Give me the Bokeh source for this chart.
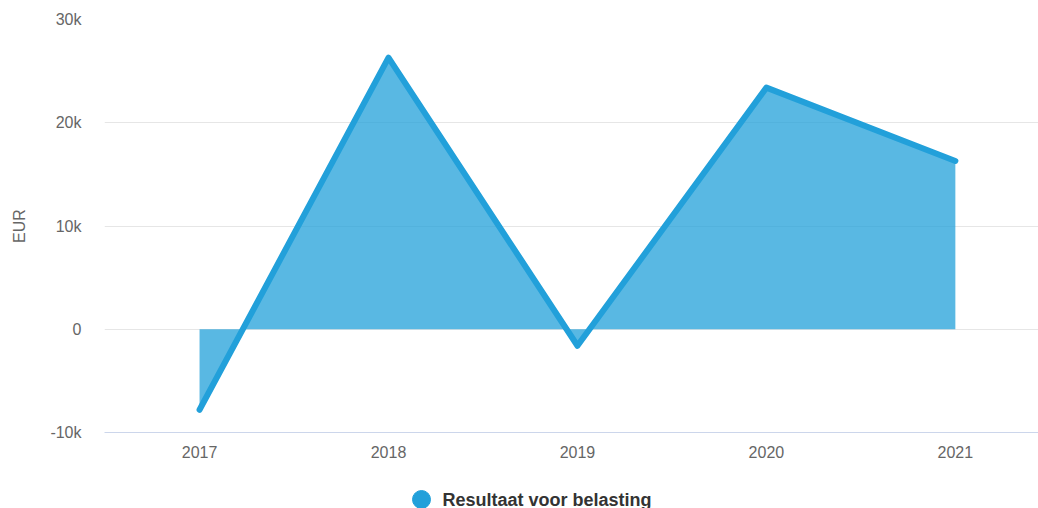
from bokeh.plotting import figure
from bokeh.models import Range1d, FixedTicker, ColumnDataSource
from bokeh.layouts import column
from bokeh.core.properties import value
from bokeh.embed import file_html
from bokeh.resources import INLINE

years = ["2017", "2018", "2019", "2020", "2021"]
values = [-7800, 26300, -1600, 23400, 16300]
series_name = "Resultaat voor belasting"
y_ticks = [-10000, 0, 10000, 20000, 30000]
y_tick_labels = ["-10k", "0", "10k", "20k", "30k"]

color = "#22a0da"
FONT = "Liberation Sans"

x = list(range(len(years)))

p = figure(width=1038, height=470, output_backend="svg", toolbar_location=None,
           x_range=Range1d(-0.503, 4.44), y_range=Range1d(-10000, 30000),
           min_border_left=104, min_border_right=0, min_border_top=19, min_border_bottom=38)
p.outline_line_color = None
p.background_fill_color = "white"
p.border_fill_color = "white"

p.varea(x=x, y1=[0] * len(x), y2=values, fill_color=color, fill_alpha=0.75)
p.line(x=x, y=values, line_color=color, line_width=6, line_join="round", line_cap="round")

# axes
p.xaxis.ticker = FixedTicker(ticks=x)
p.xaxis.major_label_overrides = {i: y for i, y in enumerate(years)}
p.xaxis.axis_line_color = "#ccd6eb"
p.xaxis.major_tick_line_color = None
p.xaxis.major_tick_out = 0
p.xaxis.major_tick_in = 0
p.xaxis.minor_tick_line_color = None
p.xaxis.major_label_text_font = FONT
p.xaxis.major_label_text_font_size = "16px"
p.xaxis.major_label_text_color = "#666666"
p.xaxis.major_label_standoff = 13

p.yaxis.ticker = FixedTicker(ticks=y_ticks)
p.yaxis.major_label_overrides = {t: l for t, l in zip(y_ticks, y_tick_labels)}
p.yaxis.axis_line_color = None
p.yaxis.major_tick_line_color = None
p.yaxis.major_tick_out = 0
p.yaxis.major_tick_in = 0
p.yaxis.minor_tick_line_color = None
p.yaxis.major_label_text_font = FONT
p.yaxis.major_label_text_font_size = "16px"
p.yaxis.major_label_text_color = "#666666"
p.yaxis.major_label_standoff = 23
p.yaxis.axis_label = "EUR"
p.yaxis.axis_label_text_font = FONT
p.yaxis.axis_label_text_font_size = "16px"
p.yaxis.axis_label_text_font_style = "normal"
p.yaxis.axis_label_text_color = "#666666"
p.yaxis.axis_label_standoff = 19

p.xgrid.grid_line_color = None
p.ygrid.grid_line_color = "#e6e6e6"
p.ygrid.grid_line_width = 1

# legend strip below the chart (its frame is aligned with the main frame: 104..1038 px)
lf = figure(width=1038, height=38, output_backend="svg", toolbar_location=None,
            x_range=Range1d(104, 1038), y_range=Range1d(38, 0),
            min_border_left=0, min_border_right=0, min_border_top=0, min_border_bottom=0)
lf.axis.visible = False
lf.grid.grid_line_color = None
lf.outline_line_color = None
lf.background_fill_color = "white"
lf.border_fill_color = "white"
leg_src = ColumnDataSource(data=dict(mx=[421], my=[29], tx=[442], ty=[29], label=[series_name]))
lf.scatter(x="mx", y="my", source=leg_src, marker="circle", size=18, fill_color=color, line_color=color)
lf.text(x="tx", y="ty", text="label", source=leg_src, text_font=value(FONT), text_font_size="18px",
        text_font_style="bold", text_color="#333333", text_baseline="alphabetic", text_align="left")

layout = column(p, lf, spacing=0)
open("out.html", "w").write(file_html(layout, INLINE))
